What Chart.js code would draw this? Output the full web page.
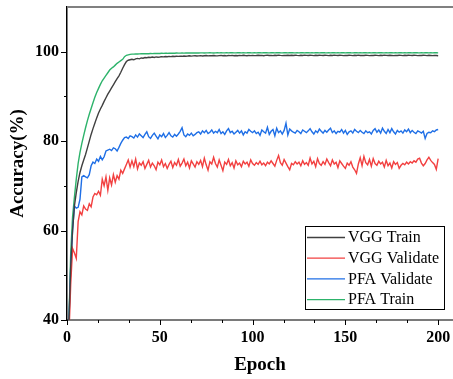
<!DOCTYPE html>
<html>
<head>
<meta charset="utf-8">
<script src="https://cdn.jsdelivr.net/npm/chart.js@4/dist/chart.umd.min.js"></script>
<style>
html,body{margin:0;padding:0;background:#fff;}
#wrap{width:453px;height:379px;position:relative;}
</style>
</head>
<body>
<div id="wrap"><canvas id="c" width="453" height="379"></canvas></div>
<script>
const seriesNames = ["VGG Train", "VGG Validate", "PFA Validate", "PFA Train"];
const seriesColors = ["#404040", "#f24040", "#1f6fe6", "#2db36b"];
const epochs = Array.from({length: 200}, (_, i) => i + 1);
const xTickLabels = [0, 50, 100, 150, 200];
const yTickLabels = [40, 60, 80, 100];

const vggTrain = [39, 52, 60, 65.5, 68.5, 71, 73, 74.5, 75.8, 77, 78.5, 80, 81.5, 82.8, 84, 85.2, 86.3, 87.2, 88, 88.9,
89.7, 90.5, 91.2, 91.9, 92.6, 93.3, 94, 94.6, 95.4, 96.3, 97.1, 97.8, 98.1, 98.2, 98.3, 98.2, 98.4, 98.5, 98.4, 98.6,
98.55, 98.7, 98.65, 98.75, 98.7, 98.8, 98.72, 98.85, 98.78, 98.82,
98.9, 98.84, 98.92, 98.88, 98.95, 98.9, 98.97, 98.93, 99.0, 98.95,
99.02, 98.97, 99.05, 99.0, 99.03, 99.08, 99.01, 99.06, 99.1, 99.04,
99.08, 99.12, 99.05, 99.1, 99.14, 99.07, 99.12, 99.09, 99.15, 99.1,
99.06, 99.13, 99.17, 99.1, 99.14, 99.08, 99.16, 99.12, 99.18, 99.11,
99.15, 99.09, 99.17, 99.13, 99.2, 99.14, 99.1, 99.18, 99.13, 99.19,
99.12, 99.16, 99.21, 99.14, 99.18, 99.11, 99.17, 99.22, 99.15, 99.19,
99.13, 99.2, 99.16, 99.23, 99.17, 99.12, 99.19, 99.15, 99.21, 99.16,
99.2, 99.14, 99.22, 99.17, 99.13, 99.2, 99.16, 99.23, 99.18, 99.14,
99.21, 99.17, 99.12, 99.2, 99.16, 99.22, 99.18, 99.14, 99.21, 99.17,
99.13, 99.2, 99.16, 99.23, 99.18, 99.14, 99.21, 99.17, 99.12, 99.19,
99.16, 99.22, 99.18, 99.13, 99.2, 99.17, 99.23, 99.15, 99.19, 99.14,
99.21, 99.17, 99.12, 99.19, 99.16, 99.22, 99.18, 99.13, 99.2, 99.16,
99.23, 99.17, 99.14, 99.2, 99.16, 99.12, 99.19, 99.15, 99.21, 99.17,
99.13, 99.2, 99.16, 99.22, 99.18, 99.14, 99.2, 99.17, 99.12, 99.19,
99.15, 99.21, 99.17, 99.13, 99.2, 99.16, 99.12, 99.18, 99.14, 99.1];

const vggValidate = [36, 48, 56, 55, 53.8, 62, 64.2, 63.5, 65.5, 64.8, 64.5, 66, 65.3, 67.5, 68.3, 68, 68.8, 67.9, 71.5, 70,
72, 69, 71.8, 70.2, 72.5, 70.8, 72.3, 71.5, 73.5, 72.8, 73.8, 74.8, 75.8, 74.2, 75.6, 74.3, 76, 73.8, 75.1, 74.6,
75.4, 73.9, 74.8, 75.7, 74.2, 75.1, 74.5, 73.6, 75.3, 74.7,
75.8, 74.3, 75.0, 73.9, 74.8, 75.5, 74.1, 75.2, 74.6, 75.9,
74.4, 75.1, 76.0, 74.5, 75.3, 74.0, 75.6, 74.9, 74.2, 75.4,
74.8, 75.7, 74.3, 76.2, 74.7, 73.5, 75.4, 74.9, 76.4, 75.0,
74.2, 75.8, 74.6, 73.4, 75.3, 74.8, 75.9, 74.5, 75.2, 74.0,
75.6, 74.7, 75.1, 74.3, 75.5, 74.9, 75.3, 74.4, 75.8, 75.0,
74.6, 75.2, 74.8, 75.5, 74.7, 75.1, 74.5, 75.3, 74.9, 75.6,
75.0, 74.4, 75.7, 76.8, 75.2, 74.6, 75.9, 75.1, 74.3, 73.6,
75.0, 74.7, 75.4, 74.9, 75.3, 74.5, 75.6, 74.8, 75.2, 74.6,
76.2, 74.9, 75.5, 74.3, 76.1, 75.0, 74.6, 75.4, 74.8, 76.0,
75.2, 74.5, 75.8, 74.9, 75.3, 74.1, 75.6, 75.0, 74.4, 73.9,
75.1, 74.6, 75.4, 74.2, 73.6, 72.8, 74.9, 76.3, 74.5, 76.6,
75.2, 74.7, 75.9, 74.4, 76.1, 75.0, 74.6, 75.5, 74.9, 75.3,
74.2, 75.7, 74.5, 75.1, 74.0, 75.4, 74.8, 75.2, 73.9, 74.6,
75.0, 74.7, 75.3, 74.9, 75.4, 75.1, 75.6, 75.3, 76.0, 76.2,
75.1, 74.5, 75.0, 75.8, 76.4, 75.7, 75.2, 74.8, 73.7, 76.1];

const pfaValidate = [39, 52, 60, 65.5, 65, 65.2, 67, 72, 72.3, 72, 71.8, 72.5, 74.5, 75.3, 75, 76, 75.5, 76.6, 75.8, 76.5,
77.8, 78, 78.2, 77.9, 78.5, 78.3, 77.8, 78.6, 79.5, 80.2, 80.8, 80.9, 80.6, 81.2, 81,
80.7, 81.4, 80.9, 81.6, 81.2, 80.8, 81.5, 82.1, 81.0, 80.6,
81.3, 81.8, 81.1, 80.5, 81.4, 81.0, 81.7, 80.8, 81.3, 81.9,
81.2, 80.9, 81.5, 81.1, 81.6, 82.2, 83.0, 81.4, 81.0, 81.6,
81.3, 81.8, 81.2, 81.5, 81.9,
82.1, 81.6, 82.3, 81.9, 82.4, 81.7, 82.0, 82.5, 81.8, 82.2,
81.9, 82.6, 81.7, 82.1, 81.5, 82.3, 82.8, 81.9, 82.2, 81.6,
82.0, 82.4, 81.8, 82.3, 81.4, 82.1, 81.8, 82.6, 82.2, 81.9,
82.3, 81.7, 82.0, 81.3, 82.5, 82.1, 81.8, 83.1, 81.5, 82.2,
82.6, 81.2, 82.9, 81.9, 82.3, 81.6, 82.4, 84.0, 81.4, 82.7,
82.3, 82.0, 81.8, 82.4, 82.1, 81.7, 82.5, 82.2, 81.9, 82.3,
82.8, 82.1, 81.6, 82.3, 81.9, 82.7, 82.2, 81.8, 82.4, 82.0,
82.5, 82.9, 81.9, 82.3, 81.7, 82.2, 82.0, 82.6, 81.8, 82.4,
81.5, 82.1, 82.3, 81.8, 82.6, 82.2, 81.9, 82.4, 82.0, 81.7,
82.3, 81.9, 82.1, 81.6, 82.4, 82.8, 82.0, 82.5, 81.8, 82.9,
82.2, 81.7, 82.6, 81.9, 82.8, 82.1, 81.6, 82.4, 82.0, 82.3,
81.8, 82.5, 82.1, 82.7, 81.9, 82.4, 82.0, 81.7, 82.3, 82.1,
81.8, 82.2, 80.6, 81.7, 82.0, 81.9, 82.3, 82.1, 82.5, 82.6];

const pfaTrain = [39, 55, 63, 67.5, 71.5, 75, 77.5, 79.5, 81.3, 83, 84.6, 86, 87.3, 88.6, 89.8, 90.9, 91.8, 92.7, 93.5, 94.1,
94.7, 95.3, 95.9, 96.3, 96.6, 97, 97.4, 97.7, 98, 98.3, 98.9, 99.2, 99.3, 99.4, 99.45,
99.45, 99.5, 99.48, 99.52, 99.55, 99.53, 99.56, 99.58, 99.55, 99.6,
99.58, 99.62, 99.6, 99.63, 99.61, 99.65, 99.63, 99.66, 99.64, 99.67,
99.65, 99.68, 99.66, 99.7, 99.68, 99.69, 99.71, 99.68, 99.7, 99.72,
99.7, 99.73, 99.71, 99.72, 99.74, 99.71, 99.73, 99.75, 99.72, 99.74,
99.73, 99.76, 99.74, 99.72, 99.75, 99.77, 99.74, 99.76, 99.73, 99.75,
99.77, 99.74, 99.76, 99.78, 99.75, 99.73, 99.76, 99.78, 99.75, 99.77,
99.74, 99.76, 99.79, 99.76, 99.74, 99.77, 99.75, 99.78, 99.76, 99.74,
99.77, 99.79, 99.76, 99.75, 99.78, 99.76, 99.74, 99.77, 99.79, 99.76,
99.75, 99.78, 99.76, 99.73, 99.77, 99.79, 99.76, 99.74, 99.77, 99.75,
99.78, 99.76, 99.74, 99.77, 99.79, 99.75, 99.77, 99.74, 99.76, 99.78,
99.75, 99.77, 99.79, 99.76, 99.74, 99.77, 99.75, 99.78, 99.76, 99.73,
99.77, 99.75, 99.78, 99.76, 99.74, 99.77, 99.79, 99.76, 99.75, 99.78,
99.76, 99.74, 99.77, 99.75, 99.78, 99.76, 99.73, 99.77, 99.75, 99.78,
99.76, 99.74, 99.77, 99.79, 99.76, 99.74, 99.77, 99.75, 99.78, 99.76,
99.74, 99.77, 99.75, 99.78, 99.76, 99.73, 99.77, 99.75, 99.78, 99.76,
99.74, 99.77, 99.79, 99.76, 99.75, 99.77, 99.74, 99.76, 99.78, 99.75,
99.77, 99.74, 99.76, 99.78, 99.75];

const allSeries = [vggTrain, vggValidate, pfaValidate, pfaTrain];

const FONT = "'Liberation Serif', 'Times New Roman', serif";
Chart.defaults.font.family = FONT;
Chart.defaults.color = '#000';

// Tick marks (major + minor) and top frame, drawn through the scales
const frameTicks = {
  id: 'frameTicks',
  afterDraw(chart) {
    const {ctx, chartArea: a, scales: {x, y}} = chart;
    ctx.save();
    ctx.strokeStyle = '#808080';
    ctx.lineWidth = 2;
    ctx.beginPath();
    ctx.moveTo(a.left, a.top);
    ctx.lineTo(a.right, a.top);
    ctx.stroke();
    ctx.strokeStyle = '#000';
    ctx.lineWidth = 1;
    for (let v = y.min; v < y.max; v += 10) {
      const py = Math.round(y.getPixelForValue(v)) + 0.5;
      const len = yTickLabels.includes(v) ? 6 : 3;
      ctx.beginPath();
      ctx.moveTo(a.left - len, py);
      ctx.lineTo(a.left, py);
      ctx.stroke();
    }
    const step = 50 / 3;
    for (let k = 0; k * step <= x.max; k++) {
      const v = k * step;
      const px = Math.round(x.getPixelForValue(v)) + 0.5;
      const len = (k % 3 === 0) ? 5 : 3;
      ctx.beginPath();
      ctx.moveTo(px, a.bottom);
      ctx.lineTo(px, a.bottom + len);
      ctx.stroke();
    }
    ctx.restore();
  }
};

const boxLegend = {
  id: 'boxLegend',
  afterDraw(chart) {
    const {ctx, chartArea: a} = chart;
    const w = 139, h = 83;
    const left = a.right - 9 - w;
    const top = a.bottom - 11 - h;
    ctx.save();
    ctx.fillStyle = '#fff';
    ctx.fillRect(left, top, w, h);
    ctx.strokeStyle = '#000';
    ctx.lineWidth = 1;
    ctx.strokeRect(Math.round(left) + 0.5, Math.round(top) + 0.5, w, h);
    ctx.font = "16px " + FONT;
    ctx.textBaseline = 'middle';
    ctx.textAlign = 'left';
    chart.data.datasets.forEach((ds, i) => {
      const cy = top + 11.5 + i * 20.7;
      ctx.strokeStyle = ds.borderColor;
      ctx.lineWidth = 1.3;
      ctx.beginPath();
      ctx.moveTo(left + 2, cy);
      ctx.lineTo(left + 40, cy);
      ctx.stroke();
      ctx.fillStyle = '#000';
      ctx.fillText(ds.label, left + 43, cy + 0.5);
    });
    ctx.restore();
  }
};

new Chart(document.getElementById('c'), {
  type: 'line',
  data: {
    datasets: seriesNames.map((name, i) => ({
      label: name,
      data: epochs.map((e, j) => ({x: e, y: allSeries[i][j]})),
      borderColor: seriesColors[i],
      backgroundColor: seriesColors[i],
      borderWidth: 1.4,
      pointRadius: 0,
      tension: 0,
      fill: false
    }))
  },
  options: {
    responsive: false,
    animation: false,
    layout: {padding: {top: 7, right: 0, left: 0, bottom: 0}},
    plugins: {legend: {display: false}, tooltip: {enabled: false}},
    scales: {
      x: {
        type: 'linear',
        min: 0,
        max: 208,
        afterBuildTicks(scale) { scale.ticks = xTickLabels.map(v => ({value: v})); },
        afterFit(scale) { scale.height = 59; scale.paddingLeft = 0; scale.paddingRight = 0; },
        grid: {drawOnChartArea: false, tickLength: 5, tickColor: 'rgba(0,0,0,0)'},
        border: {display: true, color: '#7a7a7a', width: 2},
        ticks: {font: {size: 16, weight: 'bold'}, padding: 3, maxRotation: 0, autoSkip: false, color: '#000'},
        title: {display: true, text: 'Epoch', font: {size: 19, weight: 'bold'}, padding: {top: 0, bottom: 3}, color: '#000'}
      },
      y: {
        type: 'linear',
        min: 40,
        max: 110,
        afterBuildTicks(scale) { scale.ticks = yTickLabels.map(v => ({value: v})); },
        afterFit(scale) { scale.width = 67; scale.paddingTop = 0; scale.paddingBottom = 0; },
        grid: {drawOnChartArea: false, tickLength: 6, tickColor: 'rgba(0,0,0,0)'},
        border: {display: true, color: '#000', width: 1.5},
        ticks: {font: {size: 16, weight: 'bold'}, padding: 2, autoSkip: false, color: '#000'},
        title: {display: true, text: 'Accuracy(%)', font: {size: 19, weight: 'bold'}, padding: {top: 7, bottom: 0}, color: '#000'}
      }
    }
  },
  plugins: [frameTicks, boxLegend]
});
</script>
</body>
</html>
